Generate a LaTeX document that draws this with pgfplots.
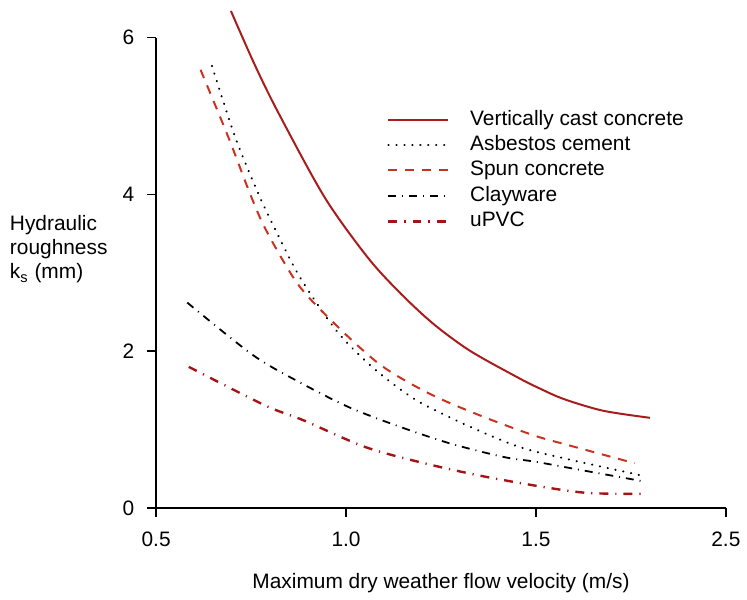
\documentclass[border=0pt]{standalone}
\usepackage{fontspec}
\setmainfont{Liberation Sans}
\usepackage{pgfplots}
\pgfplotsset{compat=1.18}

\definecolor{vcc}{HTML}{A81C1C}
\definecolor{spun}{HTML}{C8321E}
\definecolor{upvc}{HTML}{A51414}

\begin{document}
\begin{tikzpicture}
\begin{axis}[
    scale only axis,
    width=286.5pt, height=236.5pt,
    xmin=0.5, xmax=2.0, ymin=0, ymax=6,
    axis x line=bottom, axis y line=left,
    axis line style={-, line width=0.8pt},
    tick align=outside, major tick length=4.5pt,
    tick style={line width=0.8pt, black},
    xtick={0.5,1,1.5,2}, xticklabels={0.5,1.0,1.5,2.5},
    ytick={0,2,4,6}, yticklabels={0,2,4,6},
    font=\fontsize{10.5}{12.2}\selectfont,
    xticklabel style={yshift=-4pt},
    yticklabel style={xshift=-3pt},
    xlabel={Maximum dry weather flow velocity (m/s)},
    xlabel style={at={(axis description cs:0.5,-0.125)}, anchor=north},
    ylabel={Hydraulic\\roughness\\k\textsubscript{s} (mm)},
    ylabel style={rotate=-90, align=left, anchor=east, at={(axis description cs:-0.073,0.55)}},
    legend style={draw=none, fill=none, inner sep=0pt,
        at={(axis description cs:0.405,0.851)}, anchor=north west,
        nodes={inner sep=0.5pt, text height=8pt, text depth=2.5pt},
        row sep=1.3pt,
        /tikz/every odd column/.append style={column sep=10pt}},
    legend cell align=left,
    legend image code/.code={\draw[#1] (0pt,0pt) -- (30pt,0pt);},
    clip=false,
]
% Vertically cast concrete
\addplot[vcc, line width=1pt, smooth] coordinates {
    (0.697,6.34) (0.76,5.65) (0.822,5.04) (0.944,3.96) (1.058,3.19) (1.145,2.73)
    (1.232,2.34) (1.328,2.0) (1.45,1.67) (1.503,1.54) (1.573,1.39) (1.677,1.24) (1.80,1.15)
};
\addlegendentry{Vertically cast concrete}
% Asbestos cement
\addplot[black, line width=1.1pt, dash pattern=on 0.1pt off 3.9pt, line cap=round, smooth] coordinates {
    (0.647,5.64) (0.709,4.72) (0.77,4.0) (0.818,3.51) (0.879,2.94) (0.975,2.26)
    (1.071,1.79) (1.18,1.39) (1.311,1.07) (1.455,0.78) (1.586,0.62) (1.782,0.41)
};
\addlegendentry{Asbestos cement}
% Spun concrete
\addplot[spun, line width=1pt, dash pattern=on 4.5pt off 4pt, smooth] coordinates {
    (0.617,5.59) (0.691,4.72) (0.748,4.0) (0.791,3.53) (0.874,2.85) (0.97,2.35)
    (1.092,1.82) (1.223,1.45) (1.363,1.16) (1.498,0.92) (1.586,0.80) (1.76,0.57)
};
\addlegendentry{Spun concrete}
% Clayware
\addplot[black, line width=0.9pt, dash pattern=on 4pt off 3pt on 0.5pt off 3pt, smooth] coordinates {
    (0.582,2.62) (0.755,1.95) (0.879,1.60) (1.01,1.28) (1.145,1.03) (1.276,0.82)
    (1.415,0.65) (1.498,0.59) (1.60,0.50) (1.782,0.34)
};
\addlegendentry{Clayware}
% uPVC
\addplot[upvc, line width=1.2pt, dash pattern=on 4.5pt off 3.5pt on 0.6pt off 3.5pt, smooth] coordinates {
    (0.586,1.80) (0.786,1.31) (0.887,1.12) (1.055,0.77) (1.232,0.54)
    (1.398,0.37) (1.616,0.20) (1.777,0.18)
};
\addlegendentry{uPVC}
\path (rel axis cs:-0.274,-0.182) rectangle (rel axis cs:1.030,1.080);
\end{axis}
\end{tikzpicture}
\end{document}
